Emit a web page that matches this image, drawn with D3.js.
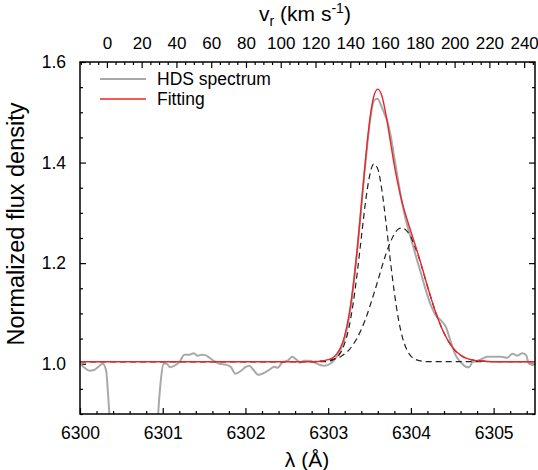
<!DOCTYPE html>
<html><head><meta charset="utf-8">
<script src="https://cdn.jsdelivr.net/npm/d3@7"></script>
<style>
html,body{margin:0;padding:0;background:#fff;}
svg{display:block;font-family:"Liberation Sans",Arial,Helvetica,sans-serif;}
</style></head><body>
<svg id="chart" width="538" height="470"></svg>
<script>
// ---- data ----
const specLambda = [6300.00,6300.054,6300.115,6300.175,6300.236,6300.275,6300.316,6300.336,6300.37,6300.40,6300.90,6300.93,6300.981,6301.008,6301.048,6301.089,6301.141,6301.202,6301.262,6301.322,6301.374,6301.423,6301.476,6301.516,6301.564,6301.624,6301.685,6301.766,6301.826,6301.878,6301.947,6301.999,6302.047,6302.095,6302.156,6302.216,6302.289,6302.349,6302.389,6302.449,6302.510,6302.563,6302.618,6302.659,6302.711,6302.771,6302.832,6302.893,6302.953,6303.034,6303.094,6303.155,6303.194,6303.234,6303.275,6303.315,6303.355,6303.396,6303.436,6303.476,6303.517,6303.557,6303.597,6303.638,6303.678,6303.717,6303.758,6303.798,6303.838,6303.879,6303.940,6304.000,6304.060,6304.121,6304.181,6304.242,6304.302,6304.362,6304.423,6304.483,6304.543,6304.604,6304.664,6304.704,6304.744,6304.804,6304.865,6304.925,6305.006,6305.087,6305.167,6305.227,6305.287,6305.348,6305.389,6305.429,6305.486];
const specFlux = [1.000,0.992,0.986,0.988,0.996,1.000,0.986,0.947,0.850,0.700,0.700,0.850,0.973,1.000,1.000,0.993,0.996,1.003,1.018,1.018,1.021,1.016,1.018,1.017,1.012,1.005,1.000,0.998,0.993,0.980,0.986,0.993,0.996,0.988,0.978,0.981,0.988,0.994,0.992,1.003,1.006,1.014,1.008,1.002,1.006,1.006,1.003,0.998,0.996,1.001,1.012,1.030,1.048,1.075,1.115,1.170,1.232,1.305,1.375,1.440,1.497,1.524,1.527,1.514,1.498,1.481,1.451,1.411,1.372,1.332,1.285,1.250,1.214,1.180,1.146,1.116,1.096,1.086,1.073,1.043,1.016,1.003,0.994,0.993,1.003,1.006,1.010,1.014,1.014,1.014,1.012,1.020,1.016,1.021,1.018,1.000,0.997];

const fitLambda = [6300.0,6302.8,6302.9,6302.95,6303.0,6303.05,6303.1,6303.15,6303.2,6303.25,6303.3,6303.35,6303.4,6303.45,6303.5,6303.55,6303.6,6303.65,6303.7,6303.75,6303.8,6303.85,6303.9,6303.95,6304.0,6304.05,6304.1,6304.15,6304.2,6304.25,6304.3,6304.4,6304.5,6304.6,6304.7,6304.8,6304.9,6305.0,6305.5];
const fitTotal  = [1.004,1.004,1.005,1.006,1.008,1.011,1.019,1.032,1.056,1.095,1.152,1.226,1.314,1.404,1.481,1.531,1.546,1.532,1.494,1.444,1.394,1.352,1.317,1.289,1.263,1.237,1.211,1.183,1.154,1.127,1.102,1.061,1.033,1.017,1.009,1.006,1.005,1.004,1.004];
const fitNarrow = [1.004,1.004,1.004,1.004,1.005,1.007,1.012,1.022,1.041,1.071,1.118,1.179,1.250,1.320,1.373,1.397,1.387,1.344,1.279,1.207,1.141,1.088,1.051,1.028,1.015,1.009,1.006,1.005,1.004,1.004,1.004,1.004,1.004,1.004,1.004,1.004,1.004,1.004,1.004];
const fitBroad  = [1.004,1.004,1.005,1.005,1.006,1.008,1.011,1.014,1.020,1.027,1.038,1.051,1.068,1.088,1.112,1.138,1.165,1.193,1.219,1.241,1.258,1.268,1.270,1.264,1.252,1.232,1.209,1.182,1.154,1.127,1.102,1.061,1.033,1.017,1.009,1.006,1.005,1.004,1.004];

const xTickValues = [6300,6301,6302,6303,6304,6305];
const yTickValues = [1.0,1.2,1.4,1.6];
const vTickValues = [0,20,40,60,80,100,120,140,160,180,200,220,240];
const legendLabels = ["HDS spectrum","Fitting"];
const restLambda = 6300.325;   // wavelength of v = 0 on the top axis
const lightSpeed = 299792.458;

// ---- layout ----
const L = 80, R = 535, T = 62, B = 414;
const svg = d3.select("#chart");
const x = d3.scaleLinear().domain([6300, 6305.5]).range([L, R]);
const y = d3.scaleLinear().domain([0.9, 1.6]).range([B, T]);
const vScale = d3.scaleLinear()
  .domain(x.domain().map(l => lightSpeed * (l / restLambda - 1)))
  .range([L, R]);

const fs = "17.5px";

svg.append("defs").append("clipPath").attr("id","clip")
  .append("rect").attr("x",L).attr("y",T).attr("width",R-L).attr("height",B-T);

const xMinor = d3.range(6300, 6305.5001, 0.2).filter(v => Math.abs(v - Math.round(v)) > 1e-6);
const yMinor = d3.range(0.9, 1.6001, 0.05).filter(v => !yTickValues.some(t => Math.abs(t - v) < 1e-6));
const vMinor = d3.range(-15, 250, 5).filter(v => v % 20 !== 0).filter(v => vScale(v) >= L && vScale(v) <= R);

function styleAxis(g, size){
  g.select(".domain").remove();
  g.selectAll(".tick line").attr("stroke","#000").attr("stroke-width",1.2);
  g.selectAll(".tick text").attr("font-size",size||fs).attr("fill","#000")
    .attr("font-family","'Liberation Sans',Arial,Helvetica,sans-serif");
}

svg.append("g").attr("transform",`translate(0,${B})`)
  .call(d3.axisBottom(x).tickValues(xTickValues).tickFormat(d3.format("d")).tickSizeInner(-6).tickSizeOuter(0).tickPadding(13))
  .call(styleAxis);
svg.append("g").attr("transform",`translate(0,${B})`)
  .call(d3.axisBottom(x).tickValues(xMinor).tickFormat("").tickSizeInner(-3).tickSizeOuter(0))
  .call(styleAxis);
svg.append("g").attr("transform",`translate(${L},0)`)
  .call(d3.axisLeft(y).tickValues(yTickValues).tickFormat(d3.format(".1f")).tickSizeInner(-6).tickSizeOuter(0).tickPadding(14))
  .call(styleAxis);
svg.append("g").attr("transform",`translate(${L},0)`)
  .call(d3.axisLeft(y).tickValues(yMinor).tickFormat("").tickSizeInner(-3).tickSizeOuter(0))
  .call(styleAxis);
svg.append("g").attr("transform",`translate(${R},0)`)
  .call(d3.axisRight(y).tickValues(yTickValues).tickFormat("").tickSizeInner(-6).tickSizeOuter(0))
  .call(styleAxis);
svg.append("g").attr("transform",`translate(${R},0)`)
  .call(d3.axisRight(y).tickValues(yMinor).tickFormat("").tickSizeInner(-3).tickSizeOuter(0))
  .call(styleAxis);
svg.append("g").attr("transform",`translate(0,${T})`)
  .call(d3.axisTop(vScale).tickValues(vTickValues).tickFormat(d3.format("d")).tickSizeInner(-6).tickSizeOuter(0).tickPadding(13))
  .call(g => styleAxis(g, "17px"));
svg.append("g").attr("transform",`translate(0,${T})`)
  .call(d3.axisTop(vScale).tickValues(vMinor).tickFormat("").tickSizeInner(-3).tickSizeOuter(0))
  .call(styleAxis);

const plot = svg.append("g").attr("clip-path","url(#clip)");
const specData = specLambda.map((l,i)=>[l, specFlux[i]]);
const mk = arr => fitLambda.map((l,i)=>[l, arr[i]]);
const line = d3.line().x(d=>x(d[0])).y(d=>y(d[1])).curve(d3.curveMonotoneX);

plot.append("path").datum(specData).attr("d", line)
  .attr("fill","none").attr("stroke","#a9a9a9").attr("stroke-width",2).attr("stroke-linejoin","round");
[fitNarrow, fitBroad].forEach(arr=>{
  plot.append("path").datum(mk(arr)).attr("d", line)
    .attr("fill","none").attr("stroke","#222").attr("stroke-width",1.2).attr("stroke-dasharray","6,4");
});
plot.append("path").datum(mk(fitTotal)).attr("d", line)
  .attr("fill","none").attr("stroke","#e8262b").attr("stroke-width",1.4);

svg.append("rect").attr("x",L).attr("y",T).attr("width",R-L).attr("height",B-T)
  .attr("fill","none").attr("stroke","#000").attr("stroke-width",1.5);

const legColors = ["#a9a9a9","#e8262b"], legWidths=[2,1.4];
legendLabels.forEach((t,i)=>{
  const yy = 79 + i*20;
  svg.append("line").attr("x1",100).attr("x2",146).attr("y1",yy).attr("y2",yy)
    .attr("stroke",legColors[i]).attr("stroke-width",legWidths[i]);
  svg.append("text").attr("x",157).attr("y",yy+6).attr("font-size",fs).text(t);
});

svg.append("text").attr("x",307).attr("y",467).attr("text-anchor","middle").attr("font-size","21px").text("λ (Å)");
const tt = svg.append("text").attr("x",305).attr("y",21).attr("text-anchor","middle").attr("font-size","21px");
tt.append("tspan").text("v");
tt.append("tspan").attr("font-size","14px").attr("dy",5).text("r");
tt.append("tspan").attr("dy",-5).text(" (km s");
tt.append("tspan").attr("font-size","14px").attr("dy",-8).text("-1");
tt.append("tspan").attr("dy",8).text(")");
svg.append("text").attr("transform","translate(24,224) rotate(-90)").attr("text-anchor","middle")
  .attr("font-size","23.5px").text("Normalized flux density");
</script>
</body></html>
